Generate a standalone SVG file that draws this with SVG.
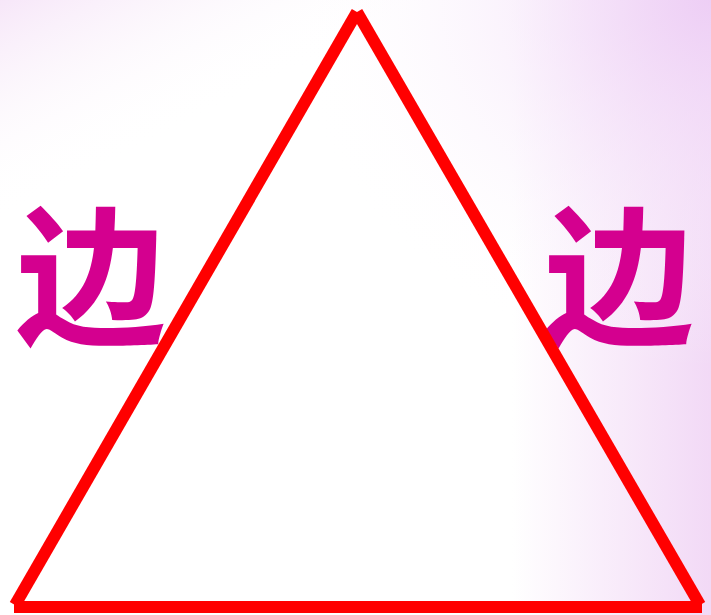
<svg xmlns="http://www.w3.org/2000/svg" width="711" height="615" viewBox="0 0 711 615">
  <defs>
    <linearGradient id="bgH" x1="0" y1="0" x2="1" y2="0">
      <stop offset="0" stop-color="#ffffff"/>
      <stop offset="0.72" stop-color="#ffffff"/>
      <stop offset="1" stop-color="#f2d9f6"/>
    </linearGradient>
    <linearGradient id="bgV" x1="0" y1="0" x2="0.35" y2="0.6">
      <stop offset="0" stop-color="#f3dcf6" stop-opacity="0.7"/>
      <stop offset="0.2" stop-color="#f8ecf9" stop-opacity="0.4"/>
      <stop offset="0.45" stop-color="#ffffff" stop-opacity="0"/>
    </linearGradient>
    <radialGradient id="bgTR" cx="1" cy="0" r="0.6">
      <stop offset="0" stop-color="#edcdf5" stop-opacity="0.9"/>
      <stop offset="1" stop-color="#ffffff" stop-opacity="0"/>
    </radialGradient>
    <style>
      .side { stroke: #ff0000; stroke-width: 12; stroke-linecap: butt; fill: none; }
      .lbl { font-family: "Noto Sans CJK SC", "Noto Sans CJK JP", sans-serif; font-weight: bold; font-size: 150px; fill: #d4008f; text-anchor: middle; }
    </style>
  </defs>
  <rect width="711" height="615" fill="url(#bgH)"/>
  <rect width="711" height="615" fill="url(#bgV)"/>
  <rect width="711" height="615" fill="url(#bgTR)"/>
  <g id="label-left"><text class="lbl" x="91" y="333">边</text></g>
  <g id="label-right"><text class="lbl" x="619" y="333">边</text></g>
  <g id="triangle">
    <line class="side" x1="357" y1="12" x2="15" y2="605"/>
    <line class="side" x1="357" y1="12" x2="700" y2="605"/>
    <line class="side" x1="14" y1="607" x2="702" y2="607"/>
  </g>
</svg>
